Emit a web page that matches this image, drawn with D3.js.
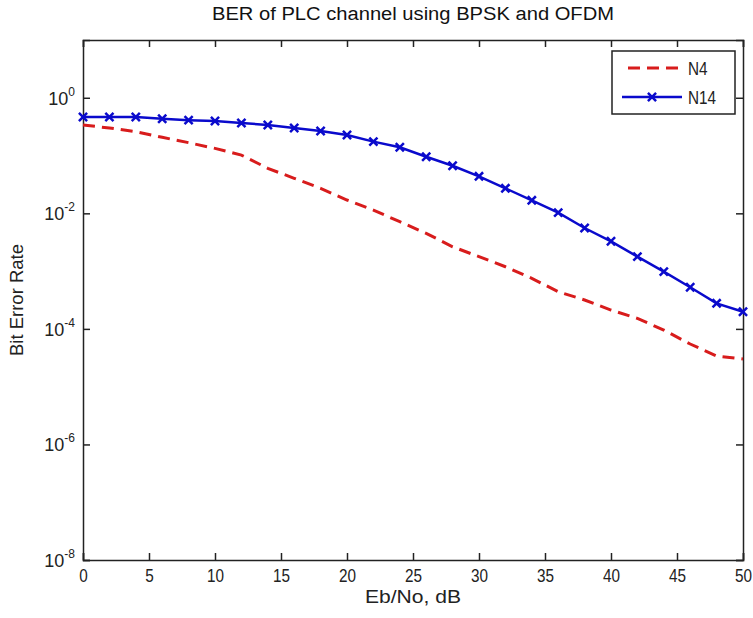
<!DOCTYPE html>
<html><head><meta charset="utf-8">
<script src="https://cdn.jsdelivr.net/npm/d3@7"></script>
<style>body{margin:0;background:#fff;} svg{display:block;}</style>
</head><body>
<script>
const ebno = [0,2,4,6,8,10,12,14,16,18,20,22,24,26,28,30,32,34,36,38,40,42,44,46,48,50];
const berN4 = [0.338,0.30,0.259,0.207,0.167,0.133,0.102,0.060,0.0404,0.0271,0.0170,0.0114,0.00716,0.00451,0.00264,0.00178,0.00119,0.00075,0.00044,0.000316,0.000212,0.000152,0.0000955,0.0000547,0.000034,0.0000301];
const berN14 = [0.464,0.464,0.464,0.434,0.41,0.396,0.366,0.338,0.30,0.266,0.227,0.174,0.139,0.0955,0.0667,0.0437,0.0271,0.0168,0.0103,0.00557,0.00328,0.00178,0.00098,0.000525,0.000277,0.000198];
const xTicks = [0,5,10,15,20,25,30,35,40,45,50];
const yTickExp = [0,-2,-4,-6,-8];
const seriesNames = ["N4","N14"];

const W=753,H=618;
const L=83,R=743,T=40,B=560;
const svg=d3.select("body").append("svg").attr("width",W).attr("height",H);
const font="Liberation Sans, Arial, sans-serif";
const fs=18;
const x=d3.scaleLinear().domain([0,50]).range([L,R]);
const y=d3.scaleLog().domain([1e-8,10]).range([B,T]);

// title
svg.append("text").attr("x",(L+R)/2).attr("y",20).attr("text-anchor","middle")
  .attr("font-family",font).attr("font-size",18).attr("fill","#111")
  .attr("textLength",402).attr("lengthAdjust","spacingAndGlyphs")
  .text("BER of PLC channel using BPSK and OFDM");

// axes with inner ticks
const tl=7;
const xb=d3.axisBottom(x).tickValues(xTicks).tickSize(-tl).tickPadding(9).tickFormat(d3.format("d"));
const xt=d3.axisTop(x).tickValues(xTicks).tickSize(-tl).tickFormat("");
const yv=yTickExp.map(e=>Math.pow(10,e));
const yl=d3.axisLeft(y).tickValues(yv).tickSize(-tl).tickFormat("");
const yr=d3.axisRight(y).tickValues(yv).tickSize(-tl).tickFormat("");
function style(g){g.selectAll("path").attr("stroke","#222").attr("stroke-width",1.5);
  g.selectAll("line").attr("stroke","#222").attr("stroke-width",1.5);
  g.selectAll("text").attr("font-family",font).attr("font-size",fs).attr("fill","#222")
   .attr("transform","scale(0.85,1)");}
svg.append("g").attr("transform",`translate(0,${B})`).call(xb).call(style);
svg.append("g").attr("transform",`translate(0,${T})`).call(xt).call(style);
svg.append("g").attr("transform",`translate(${L},0)`).call(yl).call(style);
svg.append("g").attr("transform",`translate(${R},0)`).call(yr).call(style);

// y tick labels 10^e
yTickExp.forEach(e=>{
  const t=svg.append("text").attr("x",L-8).attr("y",y(Math.pow(10,e))+7).attr("text-anchor","end")
    .attr("font-family",font).attr("font-size",fs).attr("fill","#222");
  t.append("tspan").text("10");
  t.append("tspan").attr("dy",-9).attr("font-size",12).text(String(e));
});

// axis labels
svg.append("text").attr("x",(L+R)/2).attr("y",603).attr("text-anchor","middle")
  .attr("font-family",font).attr("font-size",fs).attr("fill","#222")
  .attr("textLength",96).attr("lengthAdjust","spacingAndGlyphs").text("Eb/No, dB");
svg.append("text").attr("transform",`translate(23,${(T+B)/2}) rotate(-90)`).attr("text-anchor","middle")
  .attr("font-family",font).attr("font-size",fs).attr("fill","#222")
  .attr("textLength",112).attr("lengthAdjust","spacingAndGlyphs").text("Bit Error Rate");

const red="#d81c1c", blue="#0a0acc";
const line=d3.line().x((d,i)=>x(ebno[i])).y(d=>y(d));
svg.append("path").datum(berN4).attr("d",line).attr("fill","none").attr("stroke",red)
  .attr("stroke-width",3).attr("stroke-dasharray","12,7");
svg.append("path").datum(berN14).attr("d",line).attr("fill","none").attr("stroke",blue)
  .attr("stroke-width",2.5);
const sym=d3.symbol().type(d3.symbolX).size(45);
svg.append("g").selectAll("path").data(berN14).join("path")
  .attr("transform",(d,i)=>`translate(${x(ebno[i])},${y(d)})`).attr("d",sym)
  .attr("fill","none").attr("stroke",blue).attr("stroke-width",2.5);

// legend
const lg=svg.append("g");
lg.append("rect").attr("x",612).attr("y",51).attr("width",123).attr("height",63)
  .attr("fill","#fff").attr("stroke","#222").attr("stroke-width",1.5);
lg.append("line").attr("x1",628).attr("x2",682).attr("y1",68).attr("y2",68).attr("stroke",red)
  .attr("stroke-width",3).attr("stroke-dasharray","12,7");
lg.append("line").attr("x1",622).attr("x2",682).attr("y1",97).attr("y2",97).attr("stroke",blue).attr("stroke-width",2.5);
lg.append("path").attr("transform","translate(652,97)").attr("d",sym).attr("fill","none").attr("stroke",blue).attr("stroke-width",2.5);
[[68,seriesNames[0]],[97,seriesNames[1]]].forEach(([yy,t])=>{
  lg.append("text").attr("x",688).attr("y",yy+7).attr("font-family",font).attr("font-size",fs).attr("fill","#222")
    .attr("transform",`translate(${688*0.15},0) scale(0.85,1)`).text(t);
});
</script>
</body></html>
